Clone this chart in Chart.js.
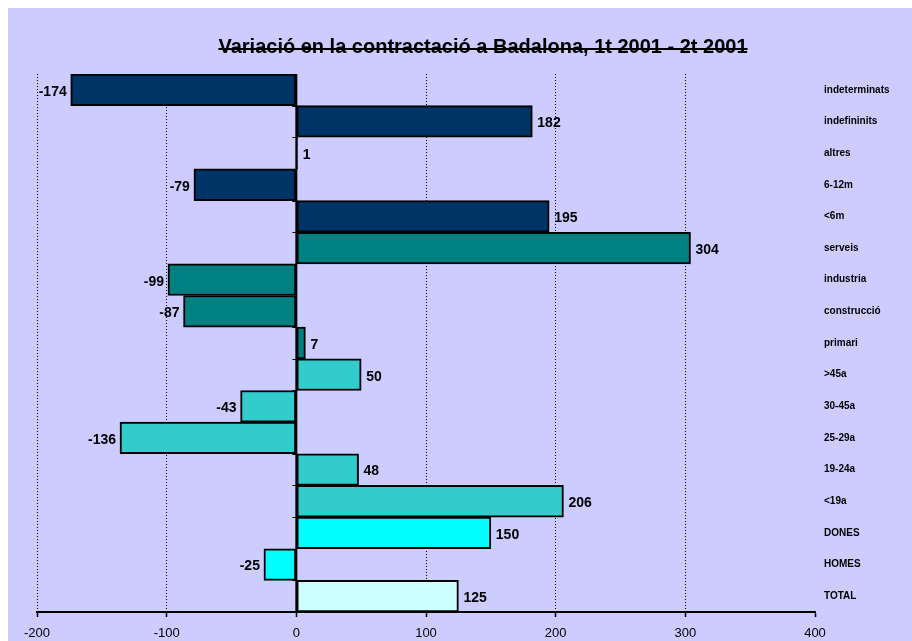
<!DOCTYPE html>
<html>
<head>
<meta charset="utf-8">
<script src="https://cdn.jsdelivr.net/npm/chart.js@4/dist/chart.umd.min.js"></script>
<style>
html,body{margin:0;padding:0;background:#fff;}
canvas{display:block;}
</style>
</head>
<body>
<canvas id="c" width="912" height="641"></canvas>
<script>
const titleText = 'Variació en la contractació a Badalona, 1t 2001 - 2t 2001';
const categories = ['indeterminats','indefininits','altres','6-12m','<6m','serveis','industria','construcció','primari','>45a','30-45a','25-29a','19-24a','<19a','DONES','HOMES','TOTAL'];
const values = [-174, 182, 1, -79, 195, 304, -99, -87, 7, 50, -43, -136, 48, 206, 150, -25, 125];
const groupOf = [0,0,0,0,0,1,1,1,1,2,2,2,2,2,3,3,4];
const groupColors = ['#003366','#008080','#33CCCC','#00FFFF','#CCFFFF'];
const xMin = -200, xMax = 400, xStep = 100;

const FONT = '"Liberation Sans", Arial, sans-serif';

const bgPlugin = {
  id: 'bg',
  beforeDraw(chart) {
    const ctx = chart.ctx;
    ctx.save();
    ctx.fillStyle = '#ffffff';
    ctx.fillRect(0, 0, chart.width, chart.height);
    ctx.fillStyle = '#CCCCFF';
    ctx.fillRect(8, 8, chart.width - 8, chart.height - 8);
    ctx.restore();
  }
};

const titlePlugin = {
  id: 'ttl',
  afterDraw(chart) {
    const ctx = chart.ctx;
    ctx.save();
    ctx.font = 'bold 20px ' + FONT;
    ctx.fillStyle = '#000';
    ctx.textAlign = 'center';
    ctx.textBaseline = 'alphabetic';
    const cx = 483, by = 53;
    ctx.fillText(titleText, cx, by);
    const w = ctx.measureText(titleText).width;
    ctx.fillRect(cx - w / 2, by - 5, w, 2);
    ctx.restore();
  }
};

const axisPlugin = {
  id: 'zeroAxis',
  afterDatasetsDraw(chart) {
    const ctx = chart.ctx;
    const xs = chart.scales.x;
    const area = chart.chartArea;
    const x0 = xs.getPixelForValue(0);
    ctx.save();
    ctx.strokeStyle = '#000';
    ctx.lineWidth = 2;
    ctx.beginPath();
    ctx.moveTo(x0, area.top);
    ctx.lineTo(x0, area.bottom);
    ctx.stroke();
    ctx.lineWidth = 1;
    const n = categories.length;
    const h = (area.bottom - area.top) / n;
    for (let i = 0; i <= n; i++) {
      const y = Math.round(area.top + i * h) + 0.5;
      ctx.beginPath();
      ctx.moveTo(x0 - 4, y);
      ctx.lineTo(x0, y);
      ctx.stroke();
    }
    const meta = chart.getDatasetMeta(0);
    ctx.font = 'bold 14px ' + FONT;
    ctx.fillStyle = '#000';
    ctx.textBaseline = 'middle';
    meta.data.forEach((bar, i) => {
      const v = values[i];
      if (v >= 0) {
        ctx.textAlign = 'left';
        ctx.fillText(String(v), bar.x + 5, bar.y + 2);
      } else {
        ctx.textAlign = 'right';
        ctx.fillText(String(v), bar.x - 4, bar.y + 2);
      }
    });
    ctx.restore();
  }
};

new Chart(document.getElementById('c'), {
  type: 'bar',
  data: {
    labels: categories,
    datasets: [{
      data: values,
      backgroundColor: values.map((v, i) => groupColors[groupOf[i]]),
      borderColor: '#000',
      borderWidth: 2,
      borderSkipped: false,
      barPercentage: 1,
      categoryPercentage: 1
    }]
  },
  options: {
    indexAxis: 'y',
    responsive: false,
    devicePixelRatio: 1,
    animation: false,
    layout: { padding: { left: 37, top: 74, right: 0, bottom: 0 } },
    plugins: { legend: { display: false }, title: { display: false }, tooltip: { enabled: false } },
    scales: {
      x: {
        type: 'linear',
        position: 'bottom',
        min: xMin,
        max: xMax,
        ticks: { stepSize: xStep, font: { family: FONT, size: 13 }, color: '#000', padding: 9 },
        grid: {
          color: (c) => (c.tick && (c.tick.value === 0 || c.tick.value === xMax)) ? 'rgba(0,0,0,0)' : '#000',
          lineWidth: 1,
          drawTicks: true,
          tickLength: 5,
          tickColor: '#000',
          tickWidth: 1.5,
          tickBorderDash: []
        },
        border: { display: true, color: '#000', width: 2, dash: [1, 2] },
        afterFit(scale) { scale.height = 29; }
      },
      y: {
        type: 'category',
        position: 'right',
        grid: { display: false, drawTicks: false },
        border: { display: false },
        ticks: { font: { family: FONT, size: 10, weight: 'bold' }, color: '#000', padding: 9 },
        afterFit(scale) { scale.width = 97; }
      }
    }
  },
  plugins: [bgPlugin, axisPlugin, titlePlugin]
});
</script>
</body>
</html>
